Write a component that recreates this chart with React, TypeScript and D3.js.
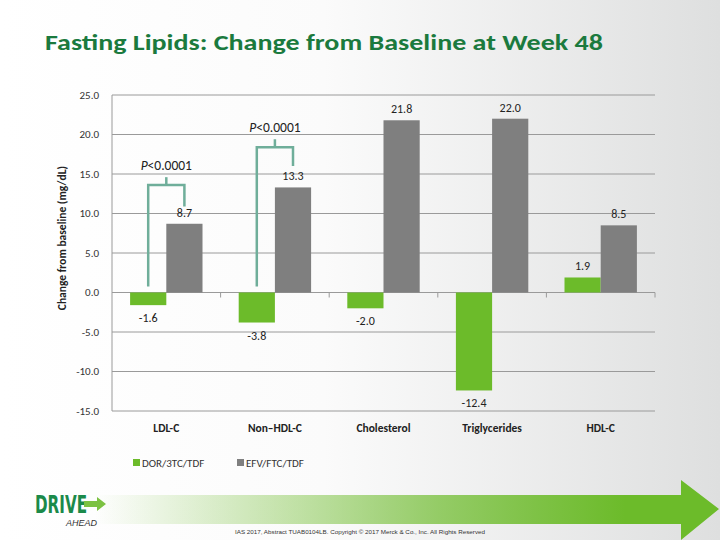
import React from 'react';
import * as d3 from 'd3';

const categories = ['LDL-C', 'Non\u2013HDL-C', 'Cholesterol', 'Triglycerides', 'HDL-C'];
const seriesNames = ['DOR/3TC/TDF', 'EFV/FTC/TDF'];
const dorValues = [-1.6, -3.8, -2.0, -12.4, 1.9];
const efvValues = [8.7, 13.3, 21.8, 22.0, 8.5];
const yTicks = [-15, -10, -5, 0, 5, 10, 15, 20, 25];
// p-value brackets: category, bracket top, end of right leg, label
const brackets = [
  { cat: 'LDL-C', top: 13.6, rightEnd: 10.9, label: '<0.0001' },
  { cat: 'Non\u2013HDL-C', top: 18.4, rightEnd: 16.0, label: '<0.0001' },
];

const colors = ['#6cbb2a', '#7f7f7f'];
const bracketColor = '#6fae9a';
const font = 'Calibri, Carlito, Lato, "Open Sans", sans-serif';

const App = () => {
  const width = 720;
  const height = 540;
  const margin = { top: 95, right: 65, bottom: 129, left: 112 };

  const x = d3.scaleBand<string>()
    .domain(categories)
    .range([margin.left, width - margin.right]);

  const x1 = d3.scaleBand<string>()
    .domain(seriesNames)
    .range([0, x.bandwidth()])
    .paddingOuter(0.5)
    .paddingInner(0);

  const y = d3.scaleLinear()
    .domain([-15, 25])
    .range([height - margin.bottom, margin.top]);

  const series = [dorValues, efvValues];

  return (
    <svg width={width} height={height} style={{ position: 'absolute', left: 0, top: 0 }} fontFamily={font}>
      <defs>
        <linearGradient id="bg" x1="0" x2="1" y1="0" y2="0">
          <stop offset="0" stopColor="#ffffff" />
          <stop offset="0.45" stopColor="#fbfbfb" />
          <stop offset="1" stopColor="#dedfdf" />
        </linearGradient>
        <linearGradient id="arrow" x1="0" x2="1" y1="0" y2="0">
          <stop offset="0" stopColor="#6cbb2a" stopOpacity="0" />
          <stop offset="0.55" stopColor="#6cbb2a" stopOpacity="0.7" />
          <stop offset="0.85" stopColor="#6cbb2a" stopOpacity="1" />
        </linearGradient>
      </defs>
      <rect width={width} height={height} fill="url(#bg)" />

      <text x={45} y={50} fontSize={23} fontWeight="bold" fill="#1b7a3e" textLength={558} lengthAdjust="spacingAndGlyphs">
        Fasting Lipids: Change from Baseline at Week 48
      </text>

      {/* grid */}
      {yTicks.map(t => (
        <g key={t}>
          <line x1={margin.left} x2={width - margin.right} y1={y(t)} y2={y(t)} stroke="#9a9a9a" strokeWidth={1} />
          <text x={margin.left - 13} y={y(t)} dy="0.35em" textAnchor="end" fontSize={11} fill="#333">
            {t.toFixed(1)}
          </text>
        </g>
      ))}
      <line x1={margin.left} x2={margin.left} y1={y(25)} y2={y(-15)} stroke="#9a9a9a" />
      {categories.slice(1).map(c => (
        <line key={c} x1={x(c)} x2={x(c)} y1={y(0)} y2={y(0) + 5} stroke="#9a9a9a" />
      ))}
      <line x1={width - margin.right} x2={width - margin.right} y1={y(0)} y2={y(0) + 5} stroke="#9a9a9a" />

      {/* bars */}
      {categories.map((c, i) => (
        <g key={c} transform={`translate(${x(c)},0)`}>
          {series.map((vals, s) => {
            const v = vals[i];
            const bx = x1(seriesNames[s])!;
            const bw = x1.bandwidth();
            return (
              <g key={s}>
                <rect x={bx} width={bw} y={y(Math.max(0, v))} height={Math.abs(y(v) - y(0))} fill={colors[s]} />
                <text
                  x={bx + bw / 2}
                  y={v >= 0 ? y(v) - 7 : y(v) + 17}
                  textAnchor="middle"
                  fontSize={12}
                  fill="#222"
                >
                  {v.toFixed(1)}
                </text>
              </g>
            );
          })}
          <text x={x.bandwidth() / 2} y={432} textAnchor="middle" fontSize={11.5} fontWeight="bold" fill="#222">
            {c}
          </text>
        </g>
      ))}

      {/* brackets */}
      {brackets.map(b => {
        const lx = x(b.cat)! + x1(seriesNames[0])! + x1.bandwidth() / 2;
        const rx = x(b.cat)! + x1(seriesNames[1])! + x1.bandwidth() / 2;
        const cx = (lx + rx) / 2;
        return (
          <g key={b.cat}>
            <path
              d={`M${lx},${y(0.75)}V${y(b.top)}H${rx}V${y(b.rightEnd)}`}
              fill="none"
              stroke={bracketColor}
              strokeWidth={2.5}
            />
            <line x1={cx} x2={cx} y1={y(b.top)} y2={y(b.top + 1)} stroke={bracketColor} strokeWidth={2.5} />
            <text x={cx} y={y(b.top + 1.9)} textAnchor="middle" fontSize={13.5} fill="#222">
              <tspan fontStyle="italic">P</tspan>
              {b.label}
            </text>
          </g>
        );
      })}

      {/* y label */}
      <text
        transform={`translate(66,${(y(25) + y(-15)) / 2 - 15}) rotate(-90)`}
        textAnchor="middle"
        fontSize={11.5}
        fontWeight="bold"
        fill="#222"
      >
        Change from baseline (mg/dL)
      </text>

      {/* legend */}
      {seriesNames.map((n, i) => (
        <g key={n} transform={`translate(${133 + i * 104},463)`}>
          <rect x={0} y={-4} width={7} height={7} fill={colors[i]} />
          <text x={9} y={0} dy="0.35em" fontSize={11} fill="#333">{n}</text>
        </g>
      ))}

      {/* footer */}
      <path d="M95,495H681V480L719,509L681,540V524H95Z" fill="url(#arrow)" />
      <text x={35} y={513} fontSize={24} fontWeight="900" fill="#1b8a4a" textLength={52} lengthAdjust="spacingAndGlyphs" fontFamily="'DejaVu Sans', sans-serif">
        DRIVE
      </text>
      <path d="M84,501H97V497L106,504L97,511V507H84Z" fill="#7cc242" />
      <text x={97} y={526} fontSize={9} fontStyle="italic" textAnchor="end" fill="#333" fontFamily="'Liberation Sans', sans-serif">
        AHEAD
      </text>
      <text x={235} y={534} fontSize={5.5} fill="#333" textLength={250} lengthAdjust="spacingAndGlyphs" fontFamily="'Liberation Sans', sans-serif">
        IAS 2017, Abstract TUAB0104LB. Copyright © 2017 Merck &amp; Co., Inc. All Rights Reserved
      </text>
    </svg>
  );
};

export default App;
